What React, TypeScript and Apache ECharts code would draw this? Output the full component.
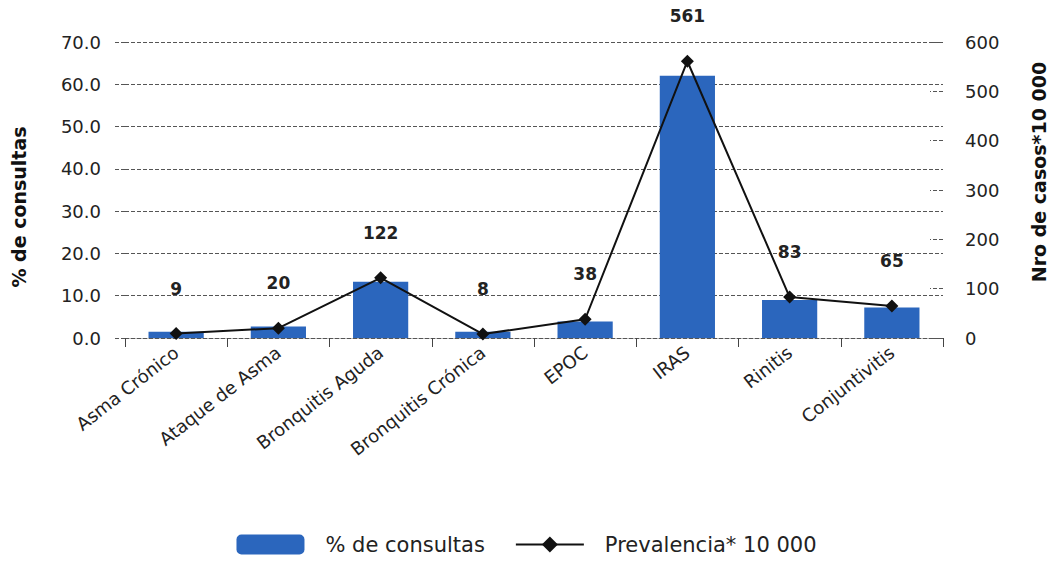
import React, { useEffect, useRef } from "react";
import * as echarts from "echarts";

const categories = [
  "Asma Crónico",
  "Ataque de Asma",
  "Bronquitis Aguda",
  "Bronquitis Crónica",
  "EPOC",
  "IRAS",
  "Rinitis",
  "Conjuntivitis",
];
const pctConsultas = [1.5, 2.7, 13.3, 1.5, 3.9, 62.0, 9.0, 7.2];
const prevalencia = [9, 20, 122, 8, 38, 561, 83, 65];
const leftTicks = { min: 0, max: 70, interval: 10 };
const rightTicks = { min: 0, max: 600, interval: 100 };

const FONT = "'DejaVu Sans', 'Liberation Sans', Arial, sans-serif";

export default function App() {
  const ref = useRef<HTMLDivElement>(null);
  useEffect(() => {
    document.body.style.margin = "0";
    if (!ref.current) return;
    const chart = echarts.init(ref.current, undefined, { renderer: "svg" });
    chart.setOption({
      animation: false,
      textStyle: { fontFamily: FONT },
      grid: { left: 125, right: 110, top: 42, bottom: 223, outerBoundsMode: "none", containLabel: false },
      legend: {
        bottom: 1,
        left: "center",
        itemWidth: 68,
        itemHeight: 20,
        itemGap: 30,
        textStyle: { fontSize: 21, color: "#222", fontFamily: FONT, padding: [0, 0, 0, 16] },
        data: ["% de consultas", "Prevalencia* 10 000"],
      },
      xAxis: {
        type: "category",
        data: categories,
        boundaryGap: true,
        axisLine: { show: true, lineStyle: { color: "#555", type: "dashed", width: 1 } },
        axisTick: { show: true, length: 9, interval: 0, lineStyle: { color: "#444" } },
        axisLabel: {
          rotate: 38,
          interval: 0,
          fontSize: 18,
          color: "#222",
          margin: 12,
          fontFamily: FONT,
        },
      },
      yAxis: [
        {
          type: "value",
          min: leftTicks.min,
          max: leftTicks.max,
          interval: leftTicks.interval,
          name: "% de consultas",
          nameLocation: "middle",
          nameGap: 97,
          nameRotate: 90,
          nameTextStyle: {
            fontSize: 19,
            fontWeight: "bold",
            color: "#111",
            fontFamily: FONT,
            padding: [0, 34, 0, 0],
          },
          axisLine: { show: false },
          axisTick: { show: true, length: 12, lineStyle: { color: "#555", type: "dashed" } },
          axisLabel: {
            fontSize: 18,
            color: "#222",
            margin: 24,
            formatter: (v: number) => v.toFixed(1),
            fontFamily: FONT,
          },
          splitLine: { show: true, lineStyle: { color: "#555", type: "dashed", width: 1 } },
        },
        {
          type: "value",
          min: rightTicks.min,
          max: rightTicks.max,
          interval: rightTicks.interval,
          position: "right",
          name: "Nro de casos*10 000",
          nameLocation: "middle",
          nameGap: 86,
          nameRotate: 90,
          nameTextStyle: {
            fontSize: 19,
            fontWeight: "bold",
            color: "#111",
            fontFamily: FONT,
            padding: [0, 0, 0, 36],
          },
          axisLine: { show: false },
          axisTick: { show: true, inside: true, length: 13, lineStyle: { color: "#555", type: "dashed" } },
          axisLabel: { fontSize: 18, color: "#222", margin: 22, fontFamily: FONT },
          splitLine: { show: false },
        },
      ],
      series: [
        {
          name: "% de consultas",
          type: "bar",
          yAxisIndex: 0,
          data: pctConsultas,
          barWidth: "54%",
          itemStyle: { color: "#2b66bd" },
        },
        {
          name: "Prevalencia* 10 000",
          type: "line",
          yAxisIndex: 1,
          data: prevalencia,
          symbol: "diamond",
          symbolSize: 13,
          lineStyle: { color: "#111", width: 2 },
          itemStyle: { color: "#111" },
          label: {
            show: true,
            position: "top",
            distance: 30,
            fontSize: 17,
            fontWeight: "bold",
            color: "#222",
            fontFamily: FONT,
          },
        },
      ],
    });
    return () => chart.dispose();
  }, []);
  return <div ref={ref} style={{ width: 1053, height: 561 }} />;
}
